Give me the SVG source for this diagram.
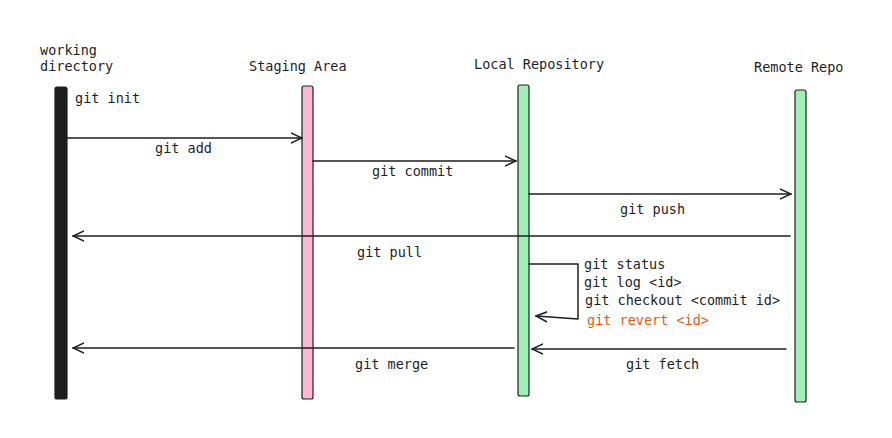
<svg xmlns="http://www.w3.org/2000/svg" width="892" height="438" viewBox="0 0 892 438">
<defs>
<style>
text{font-family:"DejaVu Sans Mono","Liberation Mono",monospace;font-size:13.5px;fill:#1e1e1e}
.bar{stroke:#1e1e1e;stroke-width:1.2}
.ln{stroke:#1e1e1e;stroke-width:1.5;fill:none;stroke-linecap:round;stroke-linejoin:round}
.red{fill:#e8590c}
</style>
<marker id="ah" viewBox="0 0 12 12" refX="11" refY="6" markerWidth="12" markerHeight="12" markerUnits="userSpaceOnUse" orient="auto">
<path d="M0,1 L11,6 L0,11" fill="none" stroke="#1e1e1e" stroke-width="1.5" stroke-linecap="round"/>
</marker>
</defs>
<rect width="892" height="438" fill="#fff"/>
<g id="working-directory">
<rect class="bar" x="55" y="87" width="12" height="312" rx="2" fill="#1e1e1e"/>
<text x="40" y="55">working</text>
<text x="40" y="71">directory</text>
</g>
<g id="staging-area">
<rect class="bar" x="302" y="86" width="11" height="313" rx="2" fill="#fdb6d4"/>
<text x="249" y="71">Staging Area</text>
</g>
<g id="local-repository">
<rect class="bar" x="518" y="85" width="11" height="311" rx="2" fill="#9ef0b6"/>
<text x="474" y="69">Local Repository</text>
</g>
<g id="remote-repo">
<rect class="bar" x="795" y="90" width="11" height="312" rx="2" fill="#9ef0b6"/>
<text x="754" y="72">Remote Repo</text>
</g>
<g id="connectors">
<line class="ln" x1="67" y1="138" x2="302" y2="138" marker-end="url(#ah)"/>
<line class="ln" x1="313" y1="161" x2="516" y2="161" marker-end="url(#ah)"/>
<line class="ln" x1="529" y1="194" x2="791" y2="194" marker-end="url(#ah)"/>
<line class="ln" x1="790" y1="236" x2="73" y2="236" marker-end="url(#ah)"/>
<polyline class="ln" points="529,264 578,264 578,319 536,316" marker-end="url(#ah)"/>
<line class="ln" x1="786" y1="349" x2="532" y2="349" marker-end="url(#ah)"/>
<line class="ln" x1="514" y1="348" x2="73" y2="348" marker-end="url(#ah)"/>
<text x="75" y="103">git init</text>
<text x="155" y="153">git add</text>
<text x="372" y="176">git commit</text>
<text x="620" y="214">git push</text>
<text x="357" y="257">git pull</text>
<text x="584" y="269">git status</text>
<text x="584" y="287">git log &lt;id&gt;</text>
<text x="585" y="305">git checkout &lt;commit id&gt;</text>
<text class="red" x="587" y="325">git revert &lt;id&gt;</text>
<text x="626" y="369">git fetch</text>
<text x="355" y="369">git merge</text>
</g>
</svg>
